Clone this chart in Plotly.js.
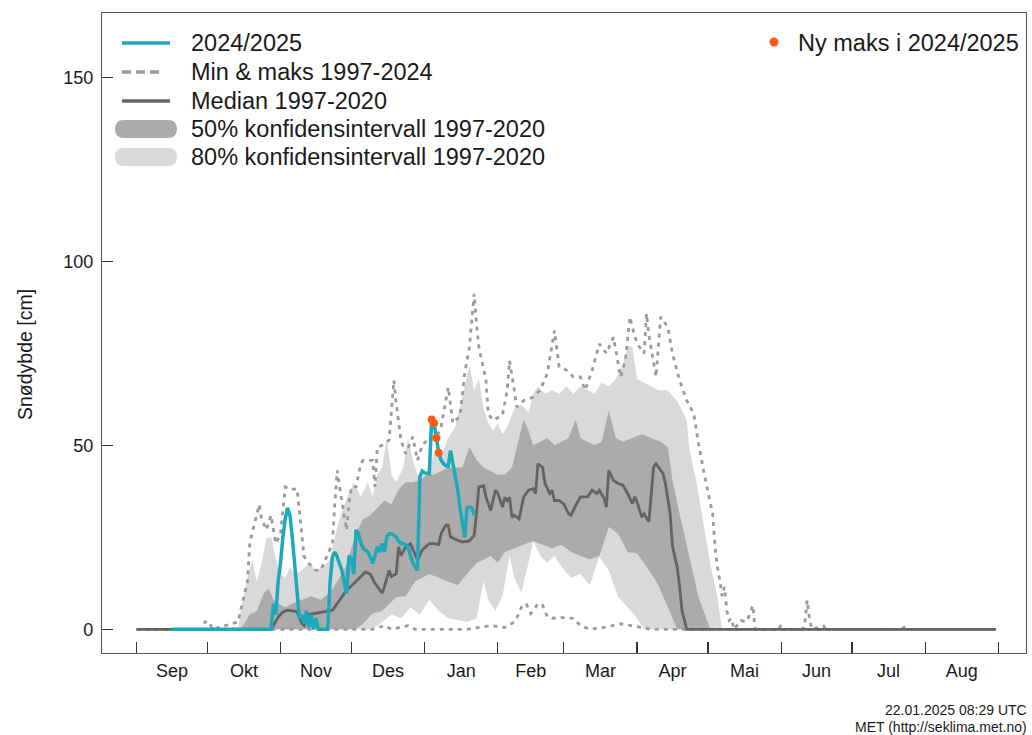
<!DOCTYPE html>
<html>
<head>
<meta charset="utf-8">
<script src="https://cdn.plot.ly/plotly-3.0.1.min.js"></script>
<style>
html,body{margin:0;padding:0;background:#fff;}
#chart{width:1032px;height:735px;}
</style>
</head>
<body>
<div id="chart"></div>
<script>
// ---- Data (x = day of season, 0 = 1 Sep 2024) ----
var monthStarts = [0,30,61,91,122,153,181,212,242,273,303,334,365];
var monthLabels = ['Sep','Okt','Nov','Des','Jan','Feb','Mar','Apr','Mai','Jun','Jul','Aug'];

var tealDays = [15,57,58,59,60,61,62,63,64,65,66,67,68,69,70,71,72,73,74,75,76,77,
  81,82,83,84,85,86,87,88,89,90,91,92,93,94,95,96,97,98,99,100,101,102,103,104,105,106,107,108,109,110,
  111,112,113,114,115,116,117,118,119,120,121,122,123,124,125,126,127,128,129,130,131,132,133,134,135,136,
  137,138,139,140,141,142,143];
var tealVals = [0,0,7,4,13,18,25,30,33,31,25,17,10,3,4,1.5,5,0.5,4,0,3,0,
  0,13,19.7,21,19.7,18,16,12.5,9.8,20,19,15,27,26,23.5,22,21.5,21,19.7,17.9,20,22.4,21,23.3,21,25,26,26,25.5,25,
  24,23.3,23.3,23,22.4,20.5,18,17,16,41.4,43,42.5,42.3,42.3,57,56,52,48,46,45,44.5,44.3,48.6,45,41,38,
  33,29,25,33,33.2,33,31];

var newMaxDays = [125,126,127,128];
var newMaxVals = [57,56,52,48];

var medianDays = [0,57,58,60,62,64,66,68,70,71,73,77,80,83,86,89,92,95,97,99,101,104,105,107,108,110,111,112,114,116,118,119,
  121,124,126,128,129,131,132,133,136,138,141,143,144,145,147,148,150,152,153,155,156,157,158,159,160,162,164,166,168,169,170,
  172,173,175,176,177,179,181,183,184,186,188,191,193,195,196,198,199,200,202,204,206,208,210,211,212,214,215,217,219,220,
  222,223,224,226,227,229,230,231,233,364];
var medianVals = [0,0,1,3.3,4.7,5.2,5,4.8,1.6,1,4,4.5,4.8,5.2,7.9,10.6,12.4,14.2,15.6,15,12.5,9.8,11.6,16,14.3,15.1,22.4,20,22.4,23.3,20.5,18.8,
  21.5,23.3,23.3,23,26,28.3,28.3,25.1,24.2,23.7,24,25.5,31.5,38.7,39,36,32.3,37.8,37,33.2,35.9,35,35.9,30.5,31,30,36,37.8,38.2,36.9,45,
  44,39.6,36.9,37.8,35,35,34,31.4,31,33.6,36,36,37.8,36.9,37.8,35.6,33.2,43.2,40.5,39.6,39.2,36.9,34.2,36,34.6,30.5,31.4,29.2,44.1,45,
  43.2,42.3,39.6,31.4,22.4,16.9,11.5,5.2,0,0];

var maxDays = [0,28,29,31,32,43,47,48,52,53,55,57,59,61,63,65,68,69,70,71,73,76,78,80,83,84,85,86,88,89,90,91,93,95,96,98,100,
  101,102,104,107,109,110,112,114,117,119,121,124,127,129,132,134,137,139,141,143,144,145,148,149,151,155,157,158,160,161,164,
  168,171,174,177,179,182,185,188,190,193,196,199,202,205,207,209,210,212,215,216,217,220,222,225,227,230,233,236,238,241,244,
  245,246,247,248,249,250,251,252,253,256,258,259,261,262,272,273,274,282,283,284,285,286,291,292,324,325,326,327,364];
var maxVals = [0,0,2,2,0,2,13,23.6,33.9,30,27,31,23.3,26,38.7,38,38.2,31.4,25,19.7,17.9,16,16,18.8,23.3,34.2,43.2,38.7,30.5,26.9,34.2,38.7,38.7,45,45.9,46,45.9,
  38.7,49.5,50,51.4,67.7,61.3,51.4,47.7,52.3,45.9,50,52,52,55,65.8,56,58,69.6,76.7,91.2,83,76.7,67.7,58.6,56.8,58.2,65,73,65,60.4,62.2,
  63.1,65,69.6,81.2,71.3,70.5,68.6,68.6,65,70.4,77.6,75,79.4,68.6,73,84.9,82,77.6,75,85.8,80,68.6,84.9,82.2,74.9,67.7,62.2,58.6,50.5,40.5,31.4,
  22.4,17,13.5,9,11.5,5,2.4,3,0,2.4,2,3,6.5,0,0,1.3,0,0,1.3,7.9,3,0,0.9,0,0,0.5,0.5,0,0];

var minDays = [0,100,105,108,115,118,140,150,156,160,162,163,165,167,168,170,172,174,176,180,185,188,192,198,205,210,214,218,364];
var minVals = [0,0,1,0,1,0,0,1,0.5,2,4.3,6,7,4.3,5,7,6.5,3.4,3,3.2,3,1,0,0.5,1.5,1,0.5,0,0];

var upper80Days = [0,43,45,47,49,51,53,55,57,59,61,63,65,67,70,73,76,79,82,84,86,88,90,92,95,98,100,102,104,106,108,110,113,115,117,
  119,122,124,126,129,132,135,138,141,143,145,147,149,151,153,155,157,160,163,166,168,170,173,176,179,182,185,188,191,194,197,200,
  203,206,208,210,212,215,218,221,225,229,233,234,237,240,243,246,248,364];
var upper80Vals = [0,0,8,14,19,13,18,24.7,25,19,15,14,17,15,16,18,16,17,19,25,30,34,37,40,36,40,36,42,44,52,42,40,44,52,46,
  42,42,44,48,46.8,52,55,63,72,65,68,60,56,54,56,53,55,60,61,59,64,66,64,65,64,66,64,66,65,64,67,66,
  68,72,77,76.7,68,67,66,65,65,62,57,49.5,40.5,29.6,17.9,8.8,0,0];

var lower80Days = [0,100,104,108,112,116,120,124,128,132,136,140,144,147,149,152,155,158,160,163,166,168,171,174,177,180,184,188,
  192,196,200,204,208,212,215,364];
var lower80Vals = [0,0,2,4,3,6,4,8,5,3,2.5,2,3,13,8,5,9,20,14,10,18,24,20,18,20,17,14,15,
  12,19.7,16,8.8,6,3,0,0];

var upper50Days = [0,44,46,48,51,54,56,58,60,63,66,70,74,78,82,85,88,90,93,96,99,102,105,108,111,114,117,120,123,126,129,132,
  135,138,141,144,147,150,153,156,159,162,164,166,168,171,174,177,180,183,186,188,191,194,197,200,203,206,210,214,218,222,225,
  227,230,234,238,243,364];
var upper50Vals = [0,0,2,4,5,10,11,8,7,6,7,8,9,8,10,13,16,20,26,30,31,33,35,34,38,40,40,40.5,42,42,43,44,
  44,44,49.5,46,44,43,42,42,44,52,57,54,50,51,52,50,51,52,57,52,51,50,51,59.5,52,51,52,53,52,51,49.5,
  40.5,31.4,19.7,8.8,0,0];

var lower50Days = [0,92,95,98,100,104,107,110,114,118,121,124,128,132,136,140,144,147,150,153,156,160,164,168,172,176,180,184,
  188,192,196,200,204,208,212,215,218,221,225,229,364];
var lower50Vals = [0,0,1,3,4.3,5,7,8.8,9,13,14,15,14,13,12,15,18,19,20,18,21,22,23,24,23,22,23,21,
  20,19,20,27.8,26,21,20.6,18,15.2,12,6,0,0];

// ---- Colours ----
var C_TEAL = '#1ca9b9', C_MED = '#646464', C_DOT = '#9a9a9a', C_50 = '#ababab', C_80 = '#d9d9d9', C_NEW = '#ff5a14';

var traces = [
  {x: lower80Days, y: lower80Vals, mode: 'lines', line: {width: 0, color: C_80}, hoverinfo: 'skip', showlegend: false},
  {x: upper80Days, y: upper80Vals, mode: 'lines', line: {width: 0, color: C_80}, fill: 'tonexty', fillcolor: C_80, hoverinfo: 'skip', showlegend: false},
  {x: lower50Days, y: lower50Vals, mode: 'lines', line: {width: 0, color: C_50}, hoverinfo: 'skip', showlegend: false},
  {x: upper50Days, y: upper50Vals, mode: 'lines', line: {width: 0, color: C_50}, fill: 'tonexty', fillcolor: C_50, hoverinfo: 'skip', showlegend: false},
  {x: minDays, y: minVals, mode: 'lines', line: {width: 2.8, color: C_DOT, dash: '4px,5px'}, showlegend: false},
  {x: maxDays, y: maxVals, mode: 'lines', line: {width: 2.8, color: C_DOT, dash: '4px,5px'}, showlegend: false},
  {x: medianDays, y: medianVals, mode: 'lines', line: {width: 2.8, color: C_MED}, showlegend: false},
  {x: tealDays, y: tealVals, mode: 'lines', line: {width: 3.5, color: C_TEAL}, showlegend: false},
  {x: newMaxDays, y: newMaxVals, mode: 'markers', marker: {size: 8, color: C_NEW}, showlegend: false},
  {x: [0], y: [0], xaxis: 'x2', mode: 'markers', marker: {opacity: 0}, hoverinfo: 'skip', showlegend: false}
];

var labelPos = [];
for (var i = 0; i < monthLabels.length; i++) labelPos.push((monthStarts[i] + monthStarts[i + 1]) / 2);

var W = 1032, H = 735, L = 102, R = 6, T = 13, B = 82;
var PW = W - L - R, PH = H - T - B;
function px(x) { return (x - L) / PW; }
function py(y) { return (H - B - y) / PH; }

var FONT = 'Liberation Sans, Arial, sans-serif';
var xr = [-14.6, 376.7];

var legendItems = [
  {text: '2024/2025', y: 43},
  {text: 'Min & maks 1997-2024', y: 72},
  {text: 'Median 1997-2020', y: 101},
  {text: '50% konfidensintervall 1997-2020', y: 129},
  {text: '80% konfidensintervall 1997-2020', y: 157}
];

var annotations = legendItems.map(function (it) {
  return {xref: 'paper', yref: 'paper', x: px(189), y: py(it.y), text: it.text, showarrow: false,
    xanchor: 'left', yanchor: 'middle', font: {family: FONT, size: 23.5, color: '#1a1a1a'}};
});
annotations.push({xref: 'paper', yref: 'paper', x: px(796), y: py(43), text: 'Ny maks i 2024/2025', showarrow: false,
  xanchor: 'left', yanchor: 'middle', font: {family: FONT, size: 23.5, color: '#1a1a1a'}});
annotations.push({xref: 'paper', yref: 'paper', x: px(1029), y: py(710), text: '22.01.2025 08:29 UTC', showarrow: false,
  xanchor: 'right', yanchor: 'middle', font: {family: FONT, size: 14, color: '#1a1a1a'}});
annotations.push({xref: 'paper', yref: 'paper', x: px(1029), y: py(727), text: 'MET (http://seklima.met.no)', showarrow: false,
  xanchor: 'right', yanchor: 'middle', font: {family: FONT, size: 14, color: '#1a1a1a'}});
annotations.push({xref: 'paper', yref: 'paper', x: px(25), y: py(355), text: 'Snødybde [cm]', showarrow: false, textangle: -90,
  xanchor: 'center', yanchor: 'middle', font: {family: FONT, size: 19.5, color: '#1a1a1a'}});

function pill(cx, cy, color) {
  return {type: 'path', xref: 'paper', yref: 'paper', xsizemode: 'pixel', ysizemode: 'pixel',
    xanchor: px(cx), yanchor: py(cy),
    path: 'M -22,-9 L 22,-9 Q 31,-9 31,0 Q 31,9 22,9 L -22,9 Q -31,9 -31,0 Q -31,-9 -22,-9 Z',
    fillcolor: color, line: {width: 0}};
}

var shapes = [
  {type: 'line', xref: 'paper', yref: 'paper', x0: px(122), x1: px(170), y0: py(43), y1: py(43), line: {color: C_TEAL, width: 3.5}},
  {type: 'line', xref: 'paper', yref: 'paper', x0: px(122), x1: px(163), y0: py(72), y1: py(72), line: {color: C_DOT, width: 3.5, dash: '9px,5px'}},
  {type: 'line', xref: 'paper', yref: 'paper', x0: px(122), x1: px(170), y0: py(101), y1: py(101), line: {color: C_MED, width: 3.5}},
  pill(146, 129, C_50),
  pill(146, 157, C_80),
  {type: 'circle', xref: 'paper', yref: 'paper', xsizemode: 'pixel', ysizemode: 'pixel', xanchor: px(774), yanchor: py(42),
    x0: -4.5, x1: 4.5, y0: -4.5, y1: 4.5, fillcolor: C_NEW, line: {width: 0}}
];

var layout = {
  width: W, height: H,
  margin: {l: L, r: R, t: T, b: B, pad: 0},
  paper_bgcolor: '#fff', plot_bgcolor: '#fff',
  showlegend: false,
  font: {family: FONT, color: '#1a1a1a'},
  xaxis: {range: xr, tickmode: 'array', tickvals: labelPos, ticktext: monthLabels, ticks: '', showgrid: false, zeroline: false,
    showline: true, mirror: true, linecolor: '#555', linewidth: 1.2, tickfont: {family: FONT, size: 18, color: '#1a1a1a'},
    ticklabelstandoff: 1, fixedrange: true},
  xaxis2: {range: xr, overlaying: 'x', anchor: 'y', side: 'bottom', tickmode: 'array', tickvals: monthStarts,
    ticktext: monthStarts.map(function () { return ''; }), ticks: 'inside', ticklen: 11, tickwidth: 1.2, tickcolor: '#333',
    showgrid: false, zeroline: false, showline: false, fixedrange: true},
  yaxis: {range: [-6.44, 167.5], tickmode: 'array', tickvals: [0, 50, 100, 150], ticks: 'inside', ticklen: 11, tickwidth: 1.2,
    tickcolor: '#333', showgrid: false, zeroline: false, showline: true, mirror: true, linecolor: '#555', linewidth: 1.2,
    tickfont: {family: FONT, size: 18, color: '#1a1a1a'}, ticklabelstandoff: 4, fixedrange: true},
  annotations: annotations,
  shapes: shapes
};

Plotly.newPlot('chart', traces, layout, {staticPlot: true, displayModeBar: false});
</script>
</body>
</html>
